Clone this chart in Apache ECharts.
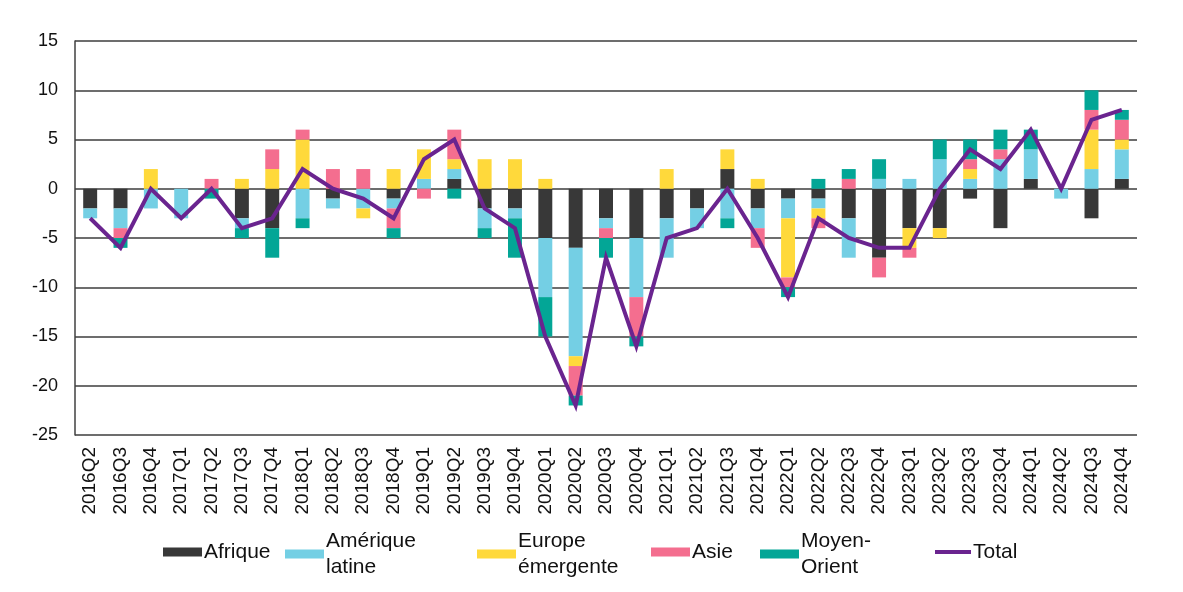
<!DOCTYPE html>
<html>
<head>
<meta charset="utf-8">
<script src="https://cdn.jsdelivr.net/npm/echarts@6/dist/echarts.min.js"></script>
<style>
html,body{margin:0;padding:0;background:#fff;}
#chart{width:1183px;height:592px;}
</style>
</head>
<body>
<div id="chart"></div>
<script>
const categories = ['2016Q2','2016Q3','2016Q4','2017Q1','2017Q2','2017Q3','2017Q4','2018Q1','2018Q2','2018Q3','2018Q4','2019Q1','2019Q2','2019Q3','2019Q4','2020Q1','2020Q2','2020Q3','2020Q4','2021Q1','2021Q2','2021Q3','2021Q4','2022Q1','2022Q2','2022Q3','2022Q4','2023Q1','2023Q2','2023Q3','2023Q4','2024Q1','2024Q2','2024Q3','2024Q4'];
const afrique      = [-2,-2, 0, 0, 0,-3,-4, 0,-1, 0,-1, 0, 1,-2,-2,-5,-6,-3,-5,-3,-2, 2,-2,-1,-1,-3,-7,-4,-4,-1,-4, 1, 0,-3, 1];
const ameriqueLat  = [-1,-2,-2,-3, 0,-1, 0,-3,-1,-2,-1, 1, 1,-2,-1,-6,-11,-1,-6,-4,-2,-3,-2,-2,-1,-4, 1, 1, 3, 1, 3, 3,-1, 2, 3];
const europeEmerg  = [ 0, 0, 2, 0, 0, 1, 2, 5, 0,-1, 2, 3, 1, 3, 3, 1,-1, 0, 0, 2, 0, 2, 1,-6,-1, 0, 0,-2,-1, 1, 0, 0, 0, 4, 1];
const asie         = [ 0,-1, 0, 0, 1, 0, 2, 1, 2, 2,-2,-1, 3, 0, 0, 0,-3,-1,-4, 0, 0, 0,-2,-1,-1, 1,-2,-1, 0, 1, 1, 0, 0, 2, 2];
const moyenOrient  = [ 0,-1, 0, 0,-1,-1,-3,-1, 0, 0,-1, 0,-1,-1,-4,-4,-1,-2,-1, 0, 0,-1, 0,-1, 1, 1, 2, 0, 2, 2, 2, 2, 0, 2, 1];
const total        = [-3,-6, 0,-3, 0,-4,-3, 2, 0,-1,-3, 3, 5,-2,-4,-15,-22,-7,-16,-5,-4, 0,-5,-11,-3,-5,-6,-6, 0, 4, 2, 6, 0, 7, 8];
const yTicks = {min:-25, max:15, interval:5};

const FONT = '"Liberation Sans", Arial, sans-serif';
const colors = {
  'Afrique':'#383838',
  'Amérique\nlatine':'#74CFE4',
  'Europe\némergente':'#FFD93B',
  'Asie':'#F46E8F',
  'Moyen-\nOrient':'#03A696',
  'Total':'#6A248F'
};
function bar(name, data){
  return {name, type:'bar', stack:'s', data, barWidth:'46%',
    itemStyle:{color:colors[name]}, emphasis:{disabled:true}};
}
const legendPos = [
  ['Afrique',163,539],
  ['Amérique\nlatine',285,528],
  ['Europe\némergente',477,528],
  ['Asie',651,539],
  ['Moyen-\nOrient',760,528],
  ['Total',935,539]
];
const legends = legendPos.map(([n,x,y])=>({
  data:[n], left:x, top:y, orient:'horizontal', padding:0,
  itemWidth: n==='Total'?36:39, itemHeight: n==='Total'?4:9, itemGap:0,
  selectedMode:false,
  textStyle:{fontFamily:FONT, fontSize:21, color:'#111', lineHeight:26, padding:[0,0,0,-3]},
  icon:'rect'
}));

const chart = echarts.init(document.getElementById('chart'), null, {renderer:'canvas'});
chart.setOption({
  animation:false,
  backgroundColor:'#fff',
  grid:{left:75, right:46, top:41, bottom:157, containLabel:false},
  legend: legends,
  xAxis:{type:'category', data:categories,
    axisLine:{show:false}, axisTick:{show:false},
    axisLabel:{rotate:90, fontFamily:FONT, fontSize:19, color:'#111', margin:12, interval:0}},
  yAxis:{type:'value', min:yTicks.min, max:yTicks.max, interval:yTicks.interval,
    axisLine:{show:true, lineStyle:{color:'#404040', width:1.5}},
    axisTick:{show:false},
    splitLine:{lineStyle:{color:'#3c3c3c', width:1.5}},
    axisLabel:{fontFamily:FONT, fontSize:18, color:'#111', margin:17}},
  series:[
    bar('Afrique', afrique),
    bar('Amérique\nlatine', ameriqueLat),
    bar('Europe\némergente', europeEmerg),
    bar('Asie', asie),
    bar('Moyen-\nOrient', moyenOrient),
    {name:'Total', type:'line', data:total, showSymbol:false, symbol:'none',
      lineStyle:{color:colors['Total'], width:4, join:'miter'}, itemStyle:{color:colors['Total']},
      emphasis:{disabled:true}, z:10}
  ]
});
</script>
</body>
</html>
